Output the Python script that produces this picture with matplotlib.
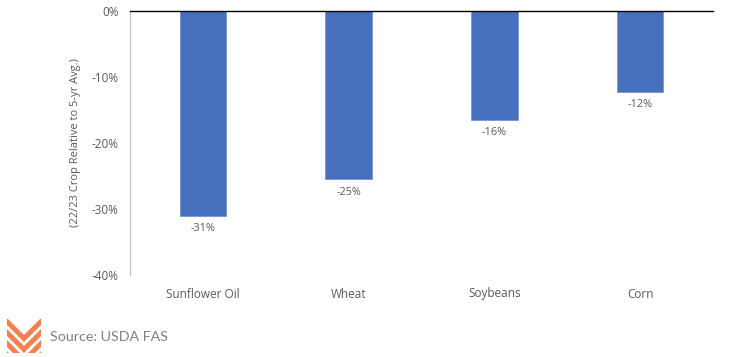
import matplotlib.pyplot as plt
from matplotlib.patches import Polygon, Rectangle
from matplotlib.ticker import FuncFormatter

crops = ['Sunflower Oil', 'Wheat', 'Soybeans', 'Corn']
change = [-31.0, -25.5, -16.5, -12.3]
labels = ['-31%', '-25%', '-16%', '-12%']
yticks = [0, -10, -20, -30, -40]

fig = plt.figure(figsize=(7.31, 3.57), dpi=100)
ax = fig.add_axes([130 / 731, 1 - 275 / 357, 583 / 731, 264 / 357])

ax.bar(range(len(crops)), change, width=0.32, color='#4670bd', edgecolor='#7398d8', linewidth=0.6)
for i, (v, lab) in enumerate(zip(change, labels)):
    ax.text(i, v - 1.1, lab, ha='center', va='top', fontsize=7.8, color='#595959', family='Open Sans')

ax.set_xlim(-0.5, len(crops) - 0.5)
ax.set_ylim(-40, 0)
ax.set_yticks(yticks)
ax.yaxis.set_major_formatter(FuncFormatter(lambda v, p: f'{v:.0f}%'))
ax.set_xticks(range(len(crops)))
ax.set_xticklabels(crops)
ax.tick_params(axis='both', length=0, labelsize=8.5, colors='#595959', pad=8)
ax.tick_params(axis='x', pad=9)
for lab in ax.get_xticklabels() + ax.get_yticklabels():
    lab.set_family('Open Sans')

ax.spines['right'].set_visible(False)
ax.spines['bottom'].set_visible(False)
ax.spines['left'].set_color('#bfbfbf')
ax.spines['top'].set_color('black')
ax.spines['top'].set_linewidth(1.0)

ax.set_ylabel('(22/23 Crop Relative to 5-yr Avg.)', fontsize=8, color='#595959', family='Open Sans', labelpad=8)

# logo
lax = fig.add_axes([7 / 731, 1 - 353 / 357, 34 / 731, 34 / 357])
lax.set_xlim(0, 34)
lax.set_ylim(0, 34)
lax.axis('off')
clip = Rectangle((0, 0), 34, 34, transform=lax.transData, facecolor='none')
for k in [-22, -11, 0, 11]:
    band = Polygon([(0, 17 + k), (17, k), (34, 17 + k), (34, 24 + k), (17, 7 + k), (0, 24 + k)],
                   closed=True, facecolor='#f4804f', edgecolor='none')
    lax.add_patch(band)
    band.set_clip_path(clip)

fig.text(50 / 731, 1 - 337 / 357, 'Source: USDA FAS', fontsize=10.3, color='#7f7f7f', family='Lato', va='center')

fig.savefig('out.png', dpi=100)
